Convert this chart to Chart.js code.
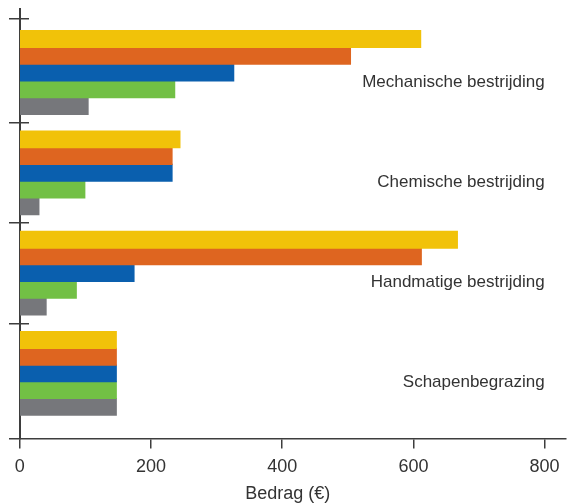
<!DOCTYPE html>
<html>
<head>
<meta charset="utf-8">
<script src="https://cdn.jsdelivr.net/npm/chart.js@4/dist/chart.umd.min.js"></script>
<style>
  html, body { margin: 0; padding: 0; background: #ffffff; }
  #wrap { width: 567px; height: 503px; position: relative; }
</style>
</head>
<body>
<div id="wrap"><canvas id="chart"></canvas></div>
<script>
// ---- data ----
const categories = ["Mechanische bestrijding", "Chemische bestrijding", "Handmatige bestrijding", "Schapenbegrazing"];
const seriesNames = ["Reeks 1", "Reeks 2", "Reeks 3", "Reeks 4", "Reeks 5"];
const yellowValues = [611, 244, 667, 147];
const orangeValues = [504, 232, 612, 147];
const blueValues   = [326, 232, 174, 147];
const greenValues  = [236, 99, 86, 147];
const grayValues   = [104, 29, 40, 147];
const xTickValues  = [0, 200, 400, 600, 800];
const axisTitle = "Bedrag (\u20AC)";

// ---- styling ----
const seriesColors = ["#F1C209", "#DE6520", "#0A5FAE", "#72C045", "#76777B"];
const axisColor = "#3d3d3d";
const textColor = "#333333";
const FONT = "'Liberation Sans', Arial, sans-serif";
Chart.defaults.font.family = FONT;

const Y_MIN = -0.63, Y_MAX = 3.65;
const boundaryTicks = [-0.54, 0.5, 1.5, 2.5];
const labelOffset = 0.093;

const allSeries = [yellowValues, orangeValues, blueValues, greenValues, grayValues];
const datasets = allSeries.map((vals, s) => ({
  label: seriesNames[s],
  data: vals.map((v, i) => ({ x: v, y: i })),
  backgroundColor: seriesColors[s],
  borderWidth: 0,
  inflateAmount: 0.6,
  categoryPercentage: 0.834,
  barPercentage: 1.0
}));

const yBase = {
  type: 'linear', reverse: true, min: Y_MIN, max: Y_MAX, offset: false
};

new Chart(document.getElementById('chart'), {
  type: 'bar',
  data: { datasets },
  options: {
    indexAxis: 'y',
    responsive: true,
    maintainAspectRatio: false,
    animation: false,
    layout: { padding: { top: 9, left: 10, right: 0, bottom: 0 } },
    plugins: { legend: { display: false }, tooltip: { enabled: false } },
    scales: {
      x: {
        type: 'linear', position: 'bottom', min: -15, max: 832,
        afterBuildTicks: (s) => { s.ticks = xTickValues.map(v => ({ value: v })); },
        grid: { drawOnChartArea: false, drawTicks: true, tickLength: 10, color: axisColor, lineWidth: 1.5, offset: false },
        border: { display: true, color: axisColor, width: 1.5 },
        ticks: { font: { size: 18, lineHeight: 1.2 }, color: textColor, padding: 7.4, maxRotation: 0, autoSkip: false },
        title: { display: true, text: axisTitle, font: { size: 18, lineHeight: 1.0 }, color: textColor, padding: { top: 0, bottom: 0 } }
      },
      y: Object.assign({}, yBase, {
        position: { x: 0 },
        afterBuildTicks: (s) => { s.ticks = boundaryTicks.map(v => ({ value: v })); },
        ticks: { display: false },
        grid: { drawOnChartArea: false, drawTicks: true, tickLength: 10, color: axisColor, lineWidth: 1.5, offset: false },
        border: { display: true, color: axisColor, width: 2 }
      }),
      y2: Object.assign({}, yBase, {
        position: { x: 14.6 },
        afterBuildTicks: (s) => { s.ticks = boundaryTicks.map(v => ({ value: v })); },
        ticks: { display: false },
        grid: { drawOnChartArea: false, drawTicks: true, tickLength: 9.6, color: axisColor, lineWidth: 1.5, offset: false },
        border: { display: false }
      }),
      yLab: Object.assign({}, yBase, {
        position: { x: xTickValues[xTickValues.length - 1] },
        afterBuildTicks: (s) => { s.ticks = categories.map((c, i) => ({ value: i + labelOffset })); },
        ticks: {
          callback: (v, i) => categories[i],
          font: { size: 17, lineHeight: 1.1 }, color: textColor, padding: 0, autoSkip: false
        },
        grid: { display: false, offset: false },
        border: { display: false }
      })
    }
  }
});
</script>
</body>
</html>
